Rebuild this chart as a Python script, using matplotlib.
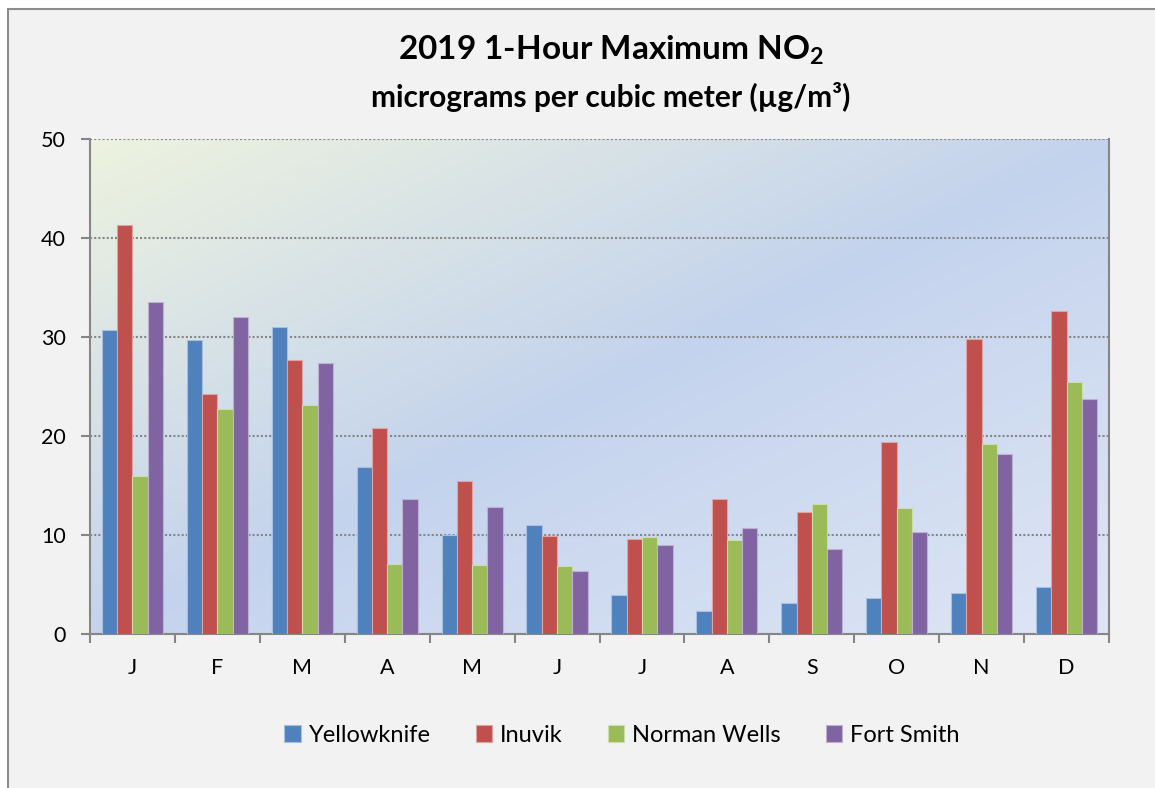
import numpy as np
import matplotlib
matplotlib.use("Agg")
import matplotlib.pyplot as plt
from matplotlib.colors import LinearSegmentedColormap
from matplotlib.patches import Rectangle

plt.rcParams['font.family'] = ['Lato', 'DejaVu Sans']
plt.rcParams['mathtext.fontset'] = 'custom'
plt.rcParams['mathtext.rm'] = 'Lato'
plt.rcParams['mathtext.bf'] = 'Lato:bold'

months = ['J', 'F', 'M', 'A', 'M', 'J', 'J', 'A', 'S', 'O', 'N', 'D']
yellowknife = [30.7, 29.7, 31.0, 16.9, 10.0, 11.0, 3.9, 2.3, 3.1, 3.6, 4.1, 4.7]
inuvik = [41.3, 24.2, 27.7, 20.8, 15.5, 9.9, 9.6, 13.6, 12.3, 19.4, 29.8, 32.6]
norman_wells = [16.0, 22.7, 23.1, 7.1, 7.0, 6.9, 9.8, 9.5, 13.1, 12.7, 19.2, 25.5]
fort_smith = [33.5, 32.0, 27.4, 13.6, 12.8, 6.4, 9.0, 10.7, 8.6, 10.3, 18.2, 23.7]

series = [
    ('Yellowknife', yellowknife, '#4F81BD', '#A7BFE0'),
    ('Inuvik', inuvik, '#C0504D', '#DFA3A1'),
    ('Norman Wells', norman_wells, '#9BBB59', '#CCDDAA'),
    ('Fort Smith', fort_smith, '#8064A2', '#BFB0D2'),
]

fig = plt.figure(figsize=(11.55, 7.88), dpi=100)
fig.patch.set_facecolor('white')
# chart frame
frame = Rectangle((8 / 1155, -0.05), 1.1, 1 - 9 / 788 + 0.05,
                  transform=fig.transFigure, facecolor='#F2F2F2',
                  edgecolor='#8C8C8C', linewidth=1.5, zorder=-5)
fig.patches.append(frame)

ax = fig.add_axes([90 / 1155, 1 - 634 / 788, 1019 / 1155, 495 / 788])
ax.set_facecolor('none')

# gradient background (diagonal, top-left greenish -> blue -> light blue)
cmap = LinearSegmentedColormap.from_list('bg', [(0.0, (237/255, 243/255, 223/255)),
                                               (0.5, (196/255, 211/255, 237/255)),
                                               (1.0, (222/255, 230/255, 245/255))])
gx, gy = np.meshgrid(np.linspace(0, 1, 300), np.linspace(1, 0, 150))
grad = (gx + (1 - gy)) / 2
ax.imshow(grad, cmap=cmap, extent=[0, 1, 0, 1], transform=ax.transAxes,
          aspect='auto', zorder=0, vmin=0, vmax=1)

x = np.arange(len(months))
w = 0.18
for i, (name, vals, col, edge) in enumerate(series):
    ax.bar(x + (i - 1.5) * w, vals, w, color=col, edgecolor=edge, linewidth=0.8,
           label=name, zorder=3)

ax.set_xlim(-0.5, 11.5)
ax.set_ylim(0, 50)
ax.set_yticks([0, 10, 20, 30, 40, 50])
ax.yaxis.grid(True, color='#868686', linestyle=(0, (1, 1)), linewidth=1.5, zorder=1)
ax.set_axisbelow(True)

ax.set_xticks(np.arange(-0.5, 12, 1))
ax.set_xticklabels([])
ax.set_xticks(x, minor=True)
ax.set_xticklabels(months, minor=True)
ax.tick_params(axis='x', which='minor', length=0, pad=17, labelsize=15.5)
ax.tick_params(axis='x', which='major', length=6.5, width=1.5, color='#868686')
ax.tick_params(axis='y', length=6.5, width=1.5, color='#868686', labelsize=15.5, pad=11)

for s in ['left', 'bottom', 'right']:
    ax.spines[s].set_color('#868686')
    ax.spines[s].set_linewidth(1.5)
ax.spines['top'].set_visible(False)

fig.text(611 / 1155, 1 - 50 / 788, r'2019 1-Hour Maximum NO$_\mathbf{2}$',
         ha='center', va='center', fontsize=24, fontweight='bold')
fig.text(611 / 1155, 1 - 97 / 788, 'micrograms per cubic meter (µg/m³)',
         ha='center', va='center', fontsize=21.5, fontweight='bold')

fig.legend(loc='center', bbox_to_anchor=(622 / 1155, 1 - 735 / 788), ncol=4,
           frameon=False, fontsize=17, handlelength=0.7, handleheight=0.7,
           handletextpad=0.34, columnspacing=1.9)

fig.savefig('out.png', dpi=100, facecolor=fig.get_facecolor())
